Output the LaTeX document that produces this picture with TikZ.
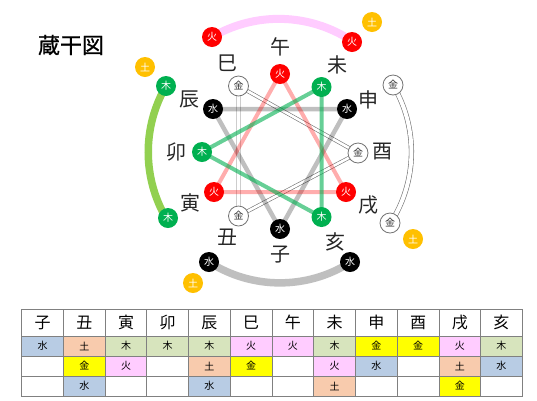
\documentclass[tikz,border=0pt]{standalone}
\usepackage{fontspec}
\setmainfont{Noto Sans CJK JP}
\newfontfamily\titlefont[FakeBold=0.8]{Noto Sans CJK JP}
\pgfdeclarelayer{bg}
\pgfsetlayers{bg,main}
\definecolor{fire}{HTML}{FF0000}
\definecolor{wood}{HTML}{00B050}
\definecolor{earth}{HTML}{FFC000}
\definecolor{lime}{HTML}{92D050}
\definecolor{pinkarc}{HTML}{FFCCFF}
\definecolor{grayarc}{HTML}{BFBFBF}
\definecolor{cS}{HTML}{B8CCE4}
\definecolor{cE}{HTML}{F8CBAD}
\definecolor{cM}{HTML}{D7E4BD}
\definecolor{cF}{HTML}{FFCCFF}
\definecolor{cK}{HTML}{FFFF00}
\definecolor{cN}{HTML}{FFFFFF}
\tikzset{
  el/.style={circle, minimum size=20pt, inner sep=0pt, font=\fontsize{10}{10}\selectfont, text=white},
  fireN/.style={el, fill=fire},
  woodN/.style={el, fill=wood},
  waterN/.style={el, fill=black},
  metalN/.style={el, fill=white, draw=black!55, line width=0.8pt, text=black!80},
  earthN/.style={el, fill=earth},
  br/.style={font=\fontsize{20}{20}\selectfont, text=black!85, inner sep=0pt},
  fireL/.style={draw=red, draw opacity=0.32, line width=4pt},
  woodL/.style={draw=wood, draw opacity=0.6, line width=4pt},
  waterL/.style={draw=black, draw opacity=0.25, line width=4.5pt},
  metalL/.style={draw=black!55, line width=0.6pt, double=white, double distance=2.6pt},
  fireA/.style={draw=pinkarc, line width=8pt},
  woodA/.style={draw=lime, line width=7.5pt},
  waterA/.style={draw=grayarc, line width=7.5pt},
  metalA/.style={draw=black!55, line width=0.6pt, double=white, double distance=4pt},
  hdr/.style={rectangle, draw=black!50, line width=0.8pt, fill=white, minimum width=41.72pt, minimum height=27pt, inner sep=0pt, font=\fontsize{16}{16}\selectfont},
  cellbox/.style={rectangle, draw=black!50, line width=0.8pt, minimum width=41.72pt, minimum height=20pt, inner sep=0pt, font=\fontsize{10}{10}\selectfont}
}
\begin{document}
\begin{tikzpicture}[x=1pt,y=-1pt]
\useasboundingbox (0,0) rectangle (537,400);
\begin{pgfonlayer}{bg}
  \fill[white] (0,0) rectangle (537,400);
\end{pgfonlayer}

% title
\node[font=\fontsize{22}{22}\selectfont\titlefont] (title) at (71,45) {蔵干図};

% inner nodes
\coordinate (C) at (280,152);
\node[fireN]  (hU) at (280,74)  {火};
\node[woodN]  (mW) at (321.5,87) {木};
\node[waterN] (sS) at (347,109) {水};
\node[metalN] (yK) at (358,153) {金};
\node[fireN]  (iF) at (346,192) {火};
\node[woodN]  (gM) at (321.5,217) {木};
\node[waterN] (nS) at (280,229) {水};
\node[metalN] (uK) at (238.5,216) {金};
\node[fireN]  (tF) at (214,192) {火};
\node[woodN]  (bM) at (202,152) {木};
\node[waterN] (dS) at (213,109) {水};
\node[metalN] (mK) at (238.5,86) {金};

% outer nodes
\node[fireN]  (oF1) at (212,37)  {火};
\node[fireN]  (oF2) at (352,42)  {火};
\node[woodN]  (oM1) at (166,86)  {木};
\node[woodN]  (oM2) at (168,218) {木};
\node[waterN] (oS1) at (209,262) {水};
\node[waterN] (oS2) at (350,262) {水};
\node[metalN] (oK1) at (393,85)  {金};
\node[metalN] (oK2) at (390,223) {金};
\node[earthN] (e1) at (145,67)  {土};
\node[earthN] (e2) at (372,22)  {土};
\node[earthN] (e3) at (413,239) {土};
\node[earthN] (e4) at (193,283) {土};

% connectors behind nodes
\begin{pgfonlayer}{bg}
  \draw[metalL] (mK.center) -- (yK.center) -- (uK.center) -- cycle;
  \draw[waterL] (dS.center) -- (sS.center) -- (nS.center) -- cycle;
  \draw[fireL]  (hU.center) -- (iF.center) -- (tF.center) -- cycle;
  \draw[woodL]  (mW.center) -- (gM.center) -- (bM.center) -- cycle;
  \draw[fireA]  (oF1.center) arc[start angle=-120.4, end angle=-56.6, radius=132];
  \draw[woodA]  (oM1.center) arc[start angle=-149.9, end angle=-210.6, radius=131.7];
  \draw[waterA] (oS1.center) arc[start angle=-237.2, end angle=-302.5, radius=130.9];
  \draw[metalA] (oK1.center) arc[start angle=-30.7, end angle=32.8, radius=131.4];
\end{pgfonlayer}

% branch labels
\node[br] (L0) at (280,47)  {午};
\node[br] (L1) at (337,65)  {未};
\node[br] (L2) at (368,100) {申};
\node[br] (L3) at (382,152) {酉};
\node[br] (L4) at (368,205) {戌};
\node[br] (L5) at (335,242) {亥};
\node[br] (L6) at (280,255) {子};
\node[br] (L7) at (227,237) {丑};
\node[br] (L8) at (190,203) {寅};
\node[br] (L9) at (176,152) {卯};
\node[br] (L10) at (189,99) {辰};
\node[br] (L11) at (227,63) {巳};

% table
\foreach \b [count=\i from 0] in {子,丑,寅,卯,辰,巳,午,未,申,酉,戌,亥} {
  \node[hdr] (h\i) at ({21.7+41.72*(\i+0.5)},322.5) {\b};
}
\foreach \c/\t [count=\i from 0] in {cS/水,cE/土,cM/木,cM/木,cM/木,cF/火,cF/火,cM/木,cK/金,cK/金,cF/火,cM/木} {
  \node[cellbox, fill=\c] (a\i) at ({21.7+41.72*(\i+0.5)},346) {\t};
}
\foreach \c/\t [count=\i from 0] in {cN/{},cK/金,cF/火,cN/{},cE/土,cK/金,cN/{},cF/火,cS/水,cN/{},cE/土,cS/水} {
  \node[cellbox, fill=\c] (b\i) at ({21.7+41.72*(\i+0.5)},366) {\t};
}
\foreach \c/\t [count=\i from 0] in {cN/{},cS/水,cN/{},cN/{},cS/水,cN/{},cN/{},cE/土,cN/{},cN/{},cK/金,cN/{}} {
  \node[cellbox, fill=\c] (c\i) at ({21.7+41.72*(\i+0.5)},386) {\t};
}
\end{tikzpicture}
\end{document}
